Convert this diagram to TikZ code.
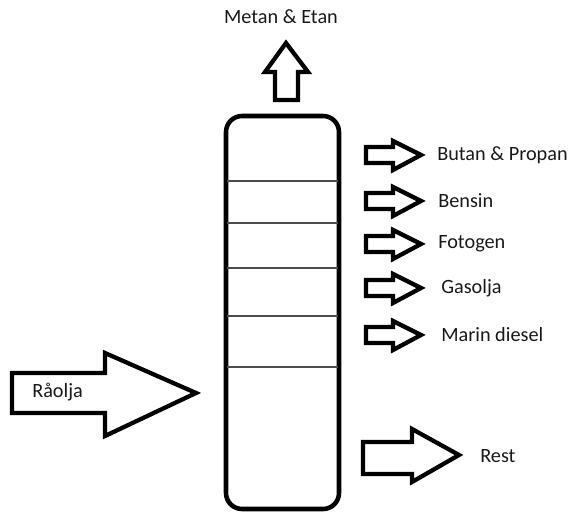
\documentclass[tikz,border=0pt]{standalone}
\usepackage{fontspec}
\setmainfont{Carlito}
\tikzset{
  blockarrow/.style={draw=black, line width=3.2pt, line join=miter, fill=white},
  label/.style={anchor=west, inner sep=0pt, font=\fontsize{15.2}{17}\selectfont, text=black!90},
  tray/.style={draw=black!70, line width=0.8pt}
}
\begin{document}
\begin{tikzpicture}[x=0.75pt,y=-0.75pt]
\useasboundingbox (0,0) rectangle (572,513);
% column
\draw[line width=3.4pt, rounded corners=12pt] (226,116) rectangle (339,509);
\foreach \yy/\nm in {181/t1,223/t2,268/t3,316/t4,367/t5}{
  \coordinate (\nm l) at (227,\yy);
  \coordinate (\nm r) at (338,\yy);
  \draw[tray] (\nm l) -- (\nm r);
}
% top arrow
\draw[blockarrow] (275,100) -- (275,72) -- (265,72) -- (286,43) -- (308,72) -- (298,72) -- (298,100) -- cycle;
\node[anchor=center, inner sep=0pt, font=\fontsize{15.2}{17}\selectfont, text=black!90] (metan) at (281,17) {Metan \& Etan};
% right arrows
\foreach \yc/\nm in {155/a1, 201/a2, 244/a3, 288/a4, 335/a5}{
  \draw[blockarrow] (366,\yc-8) -- (393,\yc-8) -- (393,\yc-14) -- (421,\yc) -- (393,\yc+15) -- (393,\yc+8) -- (366,\yc+8) -- cycle;
}
\node[label] (butan) at (437,155) {Butan \& Propan};
\node[label] (bensin) at (438,201) {Bensin};
\node[label] (fotogen) at (438,244) {Fotogen};
\node[label] (gasolja) at (441,288) {Gasolja};
\node[label] (marin) at (441,335) {Marin diesel};
% rest arrow
\draw[blockarrow] (363,442) -- (412,442) -- (412,429) -- (459,455) -- (412,482) -- (412,474) -- (363,474) -- cycle;
\node[label] (rest) at (480,456) {Rest};
% raolja arrow
\draw[blockarrow] (12,373) -- (105,373) -- (105,353) -- (196,393) -- (105,436) -- (105,413) -- (12,413) -- cycle;
\node[label] (raolja) at (32,392) {Råolja};
\end{tikzpicture}
\end{document}
